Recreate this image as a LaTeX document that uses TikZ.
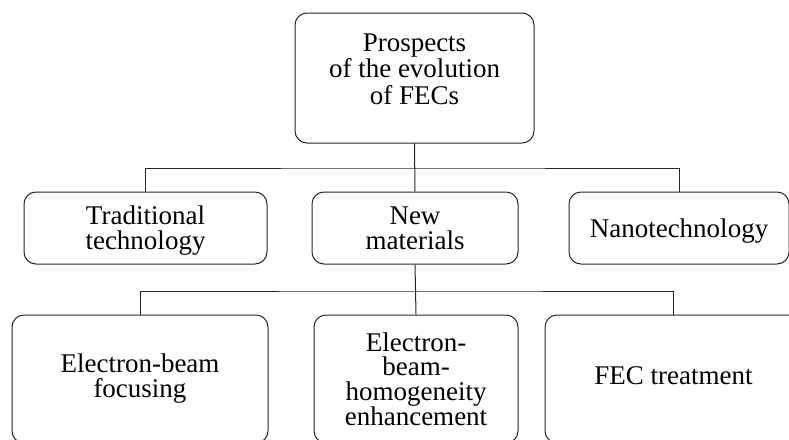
\documentclass[tikz,border=0pt]{standalone}
\usepackage{fontspec}
\setmainfont{Liberation Serif}

\tikzset{
    box/.style={draw=black!85,line width=1pt,rounded corners=12pt,align=center,
        inner sep=0pt,text depth=0pt,font=\fontsize{27}{25}\selectfont},
    link/.style={draw=black!85,line width=1pt}
}

\begin{document}
\begin{tikzpicture}[x=1pt,y=-1pt]
    % Fix the frame of the picture
    \useasboundingbox (0,0) rectangle (789,439);
    \clip (0,0) rectangle (789,439);

    % Top box
    \node[box,minimum width=239pt,minimum height=130pt,text depth=18pt,
        font=\fontsize{27}{26.5}\selectfont] (top) at (414.5,78)
        {Prospects\\of the evolution\\of FECs};

    % Middle row
    \node[box,minimum width=243pt,minimum height=72pt] (trad) at (145.5,228)
        {Traditional\\technology};
    \node[box,minimum width=206pt,minimum height=72pt] (newmat) at (415,228)
        {New\\materials};
    \node[box,minimum width=220pt,minimum height=72pt] (nano) at (679,228)
        {Nanotechnology};

    % Bottom row (cut by the lower edge)
    \node[box,minimum width=256pt,minimum height=128pt,text depth=6pt] (focus) at (140,379)
        {Electron-beam\\focusing};
    \node[box,minimum width=204pt,minimum height=128pt,
        font=\fontsize{27}{24.5}\selectfont] (homog) at (416,379)
        {Electron-\\beam-\\homogeneity\\enhancement};
    \node[box,minimum width=257pt,minimum height=128pt,text depth=6pt] (treat) at (673.5,379)
        {FEC treatment};

    % Connectors between the levels
    \draw[link] (top.south) -- (newmat.north);
    \draw[link] (trad.north) |- (414,168) -| (nano.north);
    \draw[link] (newmat.south) -- (homog.north);
    \draw[link] (focus.north) |- (414,291) -| (treat.north);
\end{tikzpicture}
\end{document}
